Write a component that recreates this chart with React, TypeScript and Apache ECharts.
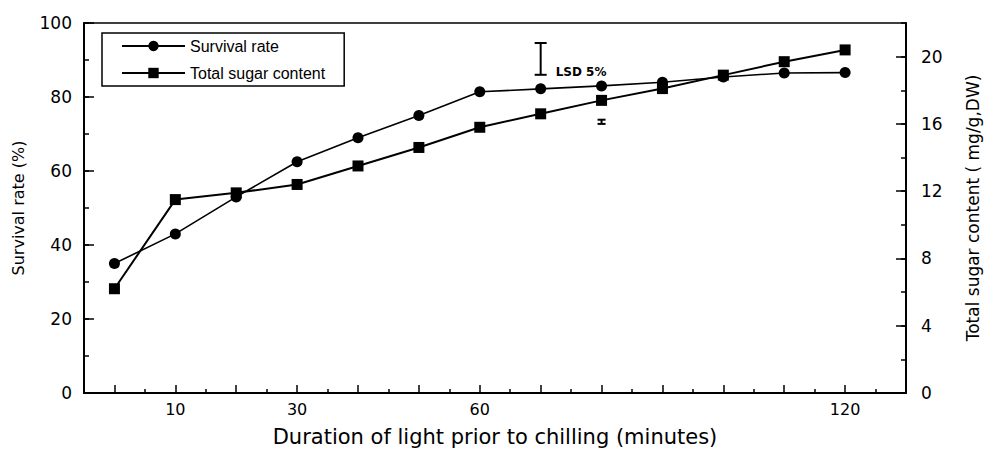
import React, { useEffect, useRef } from "react";
import * as echarts from "echarts";

// Light duration (minutes) for each measured point
const durations = ["0", "10", "20", "30", "40", "50", "60", "70", "80", "90", "100", "110", "120"];
// Tick labels printed on the x axis
const shownLabels = ["10", "30", "60", "120"];
// Survival rate (%) — left axis
const survivalRate = [35, 43, 53, 62.5, 69, 75, 81.4, 82.2, 83, 84, 85.4, 86.5, 86.6];
// Total sugar content (mg/g DW) — right axis
const sugarContent = [6.2, 11.5, 11.9, 12.4, 13.5, 14.6, 15.8, 16.6, 17.4, 18.1, 18.9, 19.7, 20.4];
// LSD 5% bars: [x index on half-step axis, low, high]
const lsdSurvival = [[15, 86, 94.6]];
const lsdSugar = [[17, 16.0, 16.25]];
const lsdLabel = "LSD 5%";

// half-step category axis: odd positions are the measured durations
const halfCats: string[] = [];
for (let j = 0; j < durations.length * 2 + 2; j++) {
  halfCats.push(j % 2 === 1 ? durations[(j - 1) / 2] : "h" + j);
}
const toHalf = (arr: number[]) => arr.map((v, i) => [2 * i + 1, v]);

const FONT = "Liberation Sans, Arial, sans-serif";
const WIDE = "DejaVu Sans, sans-serif";

function lsdRender(withLabel: boolean, half: number) {
  return (params: any, api: any) => {
    const x = api.value(0);
    const lo = api.coord([x, api.value(1)]);
    const hi = api.coord([x, api.value(2)]);
    const st = { stroke: "#000", lineWidth: 2 };
    const children: any[] = [
      { type: "line", shape: { x1: lo[0], y1: lo[1], x2: hi[0], y2: hi[1] }, style: st },
      { type: "line", shape: { x1: lo[0] - half, y1: lo[1], x2: lo[0] + half, y2: lo[1] }, style: st },
      { type: "line", shape: { x1: hi[0] - half, y1: hi[1], x2: hi[0] + half, y2: hi[1] }, style: st },
    ];
    if (withLabel) {
      children.push({
        type: "text",
        x: lo[0] + 15,
        y: lo[1] - 3,
        style: {
          text: lsdLabel,
          fill: "#000",
          font: "bold 12px DejaVu Sans, sans-serif",
          textAlign: "left",
          textVerticalAlign: "middle",
        },
      });
    }
    return { type: "group", children };
  };
}

export default function App() {
  const ref = useRef<HTMLDivElement>(null);
  useEffect(() => {
    if (!ref.current) return;
    const chart = echarts.init(ref.current, undefined, { renderer: "svg" });
    const axisLine = { show: true, lineStyle: { color: "#000", width: 2 } };
    chart.setOption({
      animation: false,
      backgroundColor: "#fff",
      grid: {
        left: 84,
        right: 81,
        top: 23,
        bottom: 58,
        show: true,
        borderColor: "#000",
        borderWidth: 1.5,
        backgroundColor: "transparent",
      },
      legend: {
        orient: "vertical",
        left: 102,
        top: 33,
        itemWidth: 63,
        itemHeight: 13,
        itemGap: 11,
        padding: [5, 19, 5, 19],
        borderColor: "#000",
        borderWidth: 1.5,
        data: ["Survival rate", "Total sugar content"],
        textStyle: { fontSize: 16, fontFamily: FONT, color: "#000" },
      },
      xAxis: [
        {
          type: "category",
          data: halfCats,
          boundaryGap: false,
          position: "bottom",
          axisLine,
          axisTick: { show: true, inside: true, length: 8, lineStyle: { color: "#000", width: 1.5 }, interval: (i: number) => i % 2 === 1 },
          axisLabel: {
            interval: (i: number, v: string) => i % 2 === 1 && shownLabels.includes(v),
            color: "#000",
            fontSize: 16,
            fontFamily: WIDE,
            margin: 8,
          },
          splitLine: { show: false },
          name: "Duration of light prior to chilling (minutes)",
          nameLocation: "middle",
          nameGap: 33,
          nameTextStyle: { fontSize: 21, fontFamily: WIDE, color: "#000" },
        },
        {
          type: "category",
          data: halfCats,
          boundaryGap: false,
          position: "bottom",
          axisLine: { show: false },
          axisTick: {
            show: true,
            inside: true,
            length: 4,
            lineStyle: { color: "#000", width: 1.5 },
            interval: (i: number) => i % 2 === 0 && i > 0 && i < halfCats.length - 1,
          },
          axisLabel: { show: false },
          splitLine: { show: false },
        },
      ],
      yAxis: [
        {
          type: "value",
          position: "left",
          min: 0,
          max: 100,
          interval: 20,
          axisLine,
          axisTick: { show: true, inside: true, length: 10, lineStyle: { color: "#000", width: 1.5 } },
          axisLabel: { color: "#000", fontSize: 17, fontFamily: WIDE, margin: 12 },
          splitLine: { show: false },
          name: "Survival rate (%)",
          nameLocation: "middle",
          nameRotate: 90,
          nameGap: 58,
          nameTextStyle: { fontSize: 16, fontFamily: WIDE, color: "#000" },
        },
        {
          type: "value",
          position: "right",
          min: 0,
          max: 22,
          interval: 4,
          axisLine,
          axisTick: { show: true, inside: true, length: 10, lineStyle: { color: "#000", width: 1.5 } },
          axisLabel: {
            color: "#000",
            fontSize: 17,
            fontFamily: WIDE,
            margin: 15,
            showMaxLabel: false,
            formatter: (v: number) => (v % 4 === 0 ? String(v) : ""),
          },
          splitLine: { show: false },
          name: "Total sugar content ( mg/g,DW)",
          nameLocation: "middle",
          nameRotate: 90,
          nameGap: 58,
          nameTextStyle: { fontSize: 17, fontFamily: WIDE, color: "#000" },
        },
        {
          type: "value",
          position: "left",
          min: 0,
          max: 100,
          interval: 10,
          axisLine: { show: false },
          axisTick: { show: true, inside: true, length: 5, lineStyle: { color: "#000", width: 1.5 } },
          axisLabel: { show: false },
          splitLine: { show: false },
        },
        {
          type: "value",
          position: "right",
          min: 0,
          max: 22,
          interval: 2,
          axisLine: { show: false },
          axisTick: { show: true, inside: true, length: 5, lineStyle: { color: "#000", width: 1.5 } },
          axisLabel: { show: false },
          splitLine: { show: false },
        },
      ],
      series: [
        {
          name: "Survival rate",
          type: "line",
          xAxisIndex: 0,
          yAxisIndex: 0,
          data: toHalf(survivalRate),
          symbol: "circle",
          symbolSize: 11,
          lineStyle: { color: "#000", width: 1.6 },
          itemStyle: { color: "#000" },
        },
        {
          name: "Total sugar content",
          type: "line",
          xAxisIndex: 0,
          yAxisIndex: 1,
          data: toHalf(sugarContent),
          symbol: "rect",
          symbolSize: 11,
          lineStyle: { color: "#000", width: 2 },
          itemStyle: { color: "#000" },
        },
        {
          name: "LSD survival",
          type: "custom",
          xAxisIndex: 0,
          yAxisIndex: 0,
          data: lsdSurvival,
          renderItem: lsdRender(true, 6),
          silent: true,
        },
        {
          name: "LSD sugar",
          type: "custom",
          xAxisIndex: 0,
          yAxisIndex: 1,
          data: lsdSugar,
          renderItem: lsdRender(false, 4),
          silent: true,
        },
      ],
    });
    return () => chart.dispose();
  }, []);
  return (
    <div
      ref={ref}
      style={{ position: "fixed", left: 0, top: 0, width: 989, height: 452, background: "#fff" }}
    />
  );
}
